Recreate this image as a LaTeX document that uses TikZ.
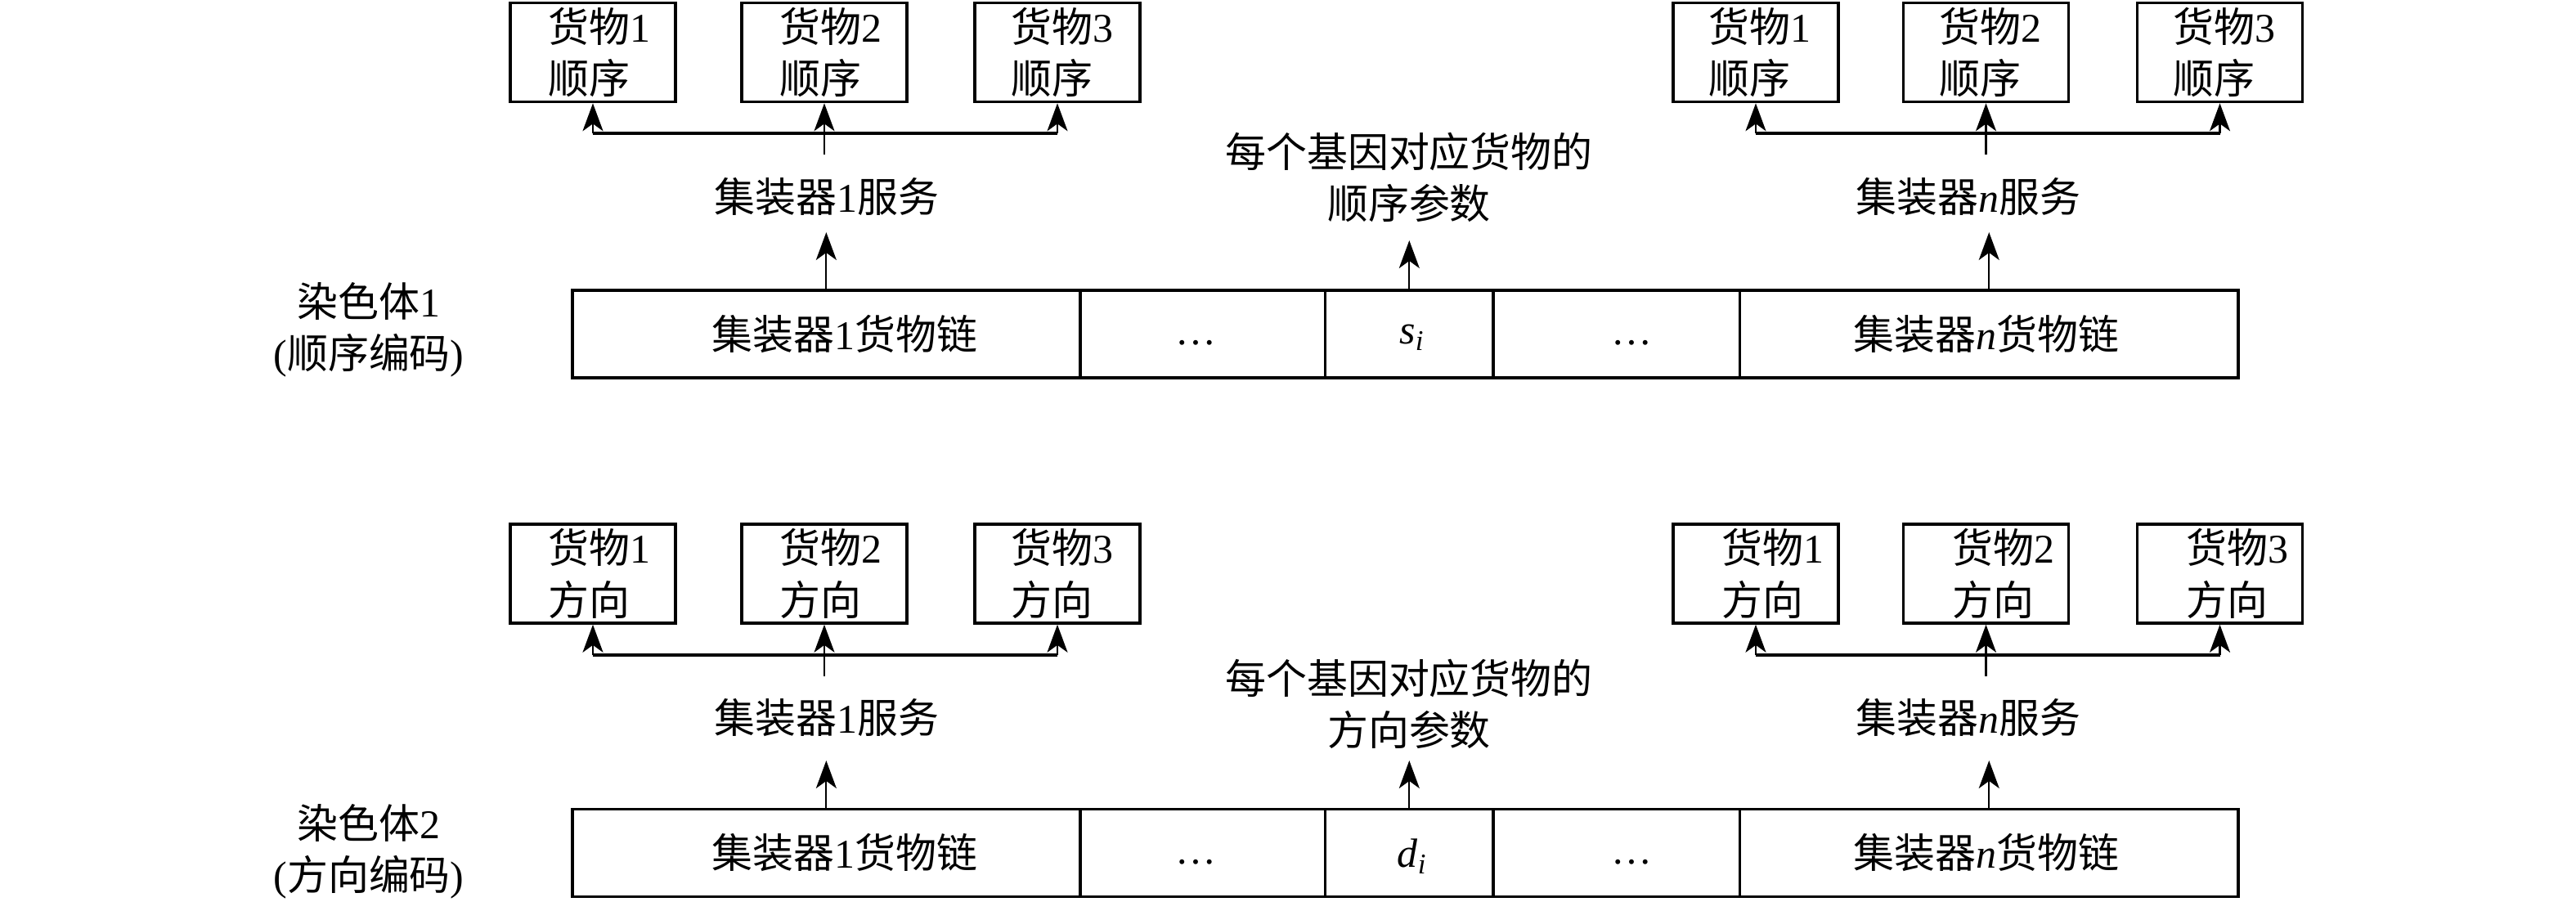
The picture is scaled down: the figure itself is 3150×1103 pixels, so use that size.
\documentclass[tikz,border=0pt]{standalone}
\usepackage{fontspec}
\setmainfont{Liberation Serif}
\newfontfamily\cjkfont{Noto Sans CJK SC}
\newcommand\zh[1]{{\cjkfont #1}}
\newcommand\fsz{\fontsize{14.2pt}{18pt}\selectfont}
\usetikzlibrary{arrows.meta}
\begin{document}
\begin{tikzpicture}[x=0.01cm,y=-0.01cm,
  cbox/.style={draw,line width=1pt,minimum width=2.02cm,minimum height=1.21cm,inner sep=0pt},
  ctxt/.style={font=\fsz,align=left,inner sep=0pt,anchor=west},
  lbl/.style={font=\fsz,align=center,inner sep=0pt},
  cell/.style={draw,line width=1pt,minimum height=1.065cm,inner sep=0pt},
  arr/.style={-{Stealth[length=0.34cm,width=0.25cm,inset=0.09cm]},line width=0.6pt},
  bar/.style={line width=1pt}]
\useasboundingbox (0,0) rectangle (3150,1103);
\foreach \hh/\bcy/\bry/\sty/\svy/\tpy/\dty/\dcy/\ccy/\lcy/\kk/\ww/\vv/\rp in
 {u/64/163/189/241/284/294/217/408.5/403.5/1/顺序/s/0.45,
  l/701.5/801/827/878/930/930/861/1043/1041.5/2/方向/d/0.61}
{
  % cargo boxes, left group
  \node[cbox] (L1\hh) at (725,\bcy) {};
  \node[cbox] (L2\hh) at (1008,\bcy) {};
  \node[cbox] (L3\hh) at (1293,\bcy) {};
  \node[ctxt] (L1t\hh) at ([xshift=0.48cm]L1\hh.west) {\zh{货物}1\\\zh{\ww}};
  \node[ctxt] (L2t\hh) at ([xshift=0.48cm]L2\hh.west) {\zh{货物}2\\\zh{\ww}};
  \node[ctxt] (L3t\hh) at ([xshift=0.46cm]L3\hh.west) {\zh{货物}3\\\zh{\ww}};
  % cargo boxes, right group
  \node[cbox] (R1\hh) at (2147,\bcy) {};
  \node[cbox] (R2\hh) at (2428.5,\bcy) {};
  \node[cbox] (R3\hh) at (2714.5,\bcy) {};
  \node[ctxt] (R1t\hh) at ([xshift=\rp cm]R1\hh.west) {\zh{货物}1\\\zh{\ww}};
  \node[ctxt] (R2t\hh) at ([xshift=\rp cm]R2\hh.west) {\zh{货物}2\\\zh{\ww}};
  \node[ctxt] (R3t\hh) at ([xshift=\rp cm]R3\hh.west) {\zh{货物}3\\\zh{\ww}};
  % branches
  \coordinate (JL\hh) at (1008,\bry);
  \coordinate (SL\hh) at (1008,\sty);
  \coordinate (JR\hh) at (2428.5,\bry);
  \coordinate (SR\hh) at (2428.5,\sty);
  \draw[bar] (JL\hh -| L1\hh.south) -- (JL\hh -| L3\hh.south);
  \draw[arr] (JL\hh -| L1\hh.south) -- (L1\hh.south);
  \draw[arr] (JL\hh -| L3\hh.south) -- (L3\hh.south);
  \draw[arr] (SL\hh) -- (L2\hh.south);
  \draw[bar] (JR\hh -| R1\hh.south) -- (JR\hh -| R3\hh.south);
  \draw[arr] (JR\hh -| R1\hh.south) -- (R1\hh.south);
  \draw[arr] (JR\hh -| R3\hh.south) -- (R3\hh.south);
  \draw[arr] (SR\hh) -- (R2\hh.south);
  % service labels and description
  \node[lbl] (SV1\hh) at (1011,\svy) {\zh{集装器}1\zh{服务}};
  \node[lbl] (SVn\hh) at (2407,\svy) {\zh{集装器}\textit{n}\zh{服务}};
  \node[lbl] (D\hh) at (1723,\dcy) {\zh{每个基因对应货物的}\\\zh{\ww 参数}};
  % chromosome chain
  \node[cell,minimum width=6.207cm] (C1\hh) at (1010.35,\ccy) {};
  \node[cell,minimum width=2.997cm] (C2\hh) at (1470.55,\ccy) {};
  \node[cell,minimum width=2.058cm] (C3\hh) at (1723.3,\ccy) {};
  \node[cell,minimum width=3.013cm] (C4\hh) at (1976.85,\ccy) {};
  \node[cell,minimum width=6.095cm] (C5\hh) at (2432.25,\ccy) {};
  \node[lbl] (T1\hh) at (1033,\ccy) {\zh{集装器}1\zh{货物链}};
  \node[lbl,anchor=base] (T2\hh) at (1462,\ccy+13) {…};
  \node[lbl] (T3\hh) at (1727,\ccy+4) {\textit{\vv}\textsubscript{\textit{i}}};
  \node[lbl,anchor=base] (T4\hh) at (1995,\ccy+13) {…};
  \node[lbl] (T5\hh) at (2429,\ccy) {\zh{集装器}\textit{n}\zh{货物链}};
  % arrows from chain
  \coordinate (A1\hh) at (1010.35,\tpy);
  \coordinate (A3\hh) at (1723.3,\dty);
  \coordinate (A5\hh) at (2432.25,\tpy);
  \draw[arr] (C1\hh.north) -- (A1\hh);
  \draw[arr] (C3\hh.north) -- (A3\hh);
  \draw[arr] (C5\hh.north) -- (A5\hh);
  % chromosome label
  \node[lbl] (K\hh) at (451,\lcy) {\zh{染色体}\kk\\(\zh{\ww 编码})};
}
\end{tikzpicture}
\end{document}
